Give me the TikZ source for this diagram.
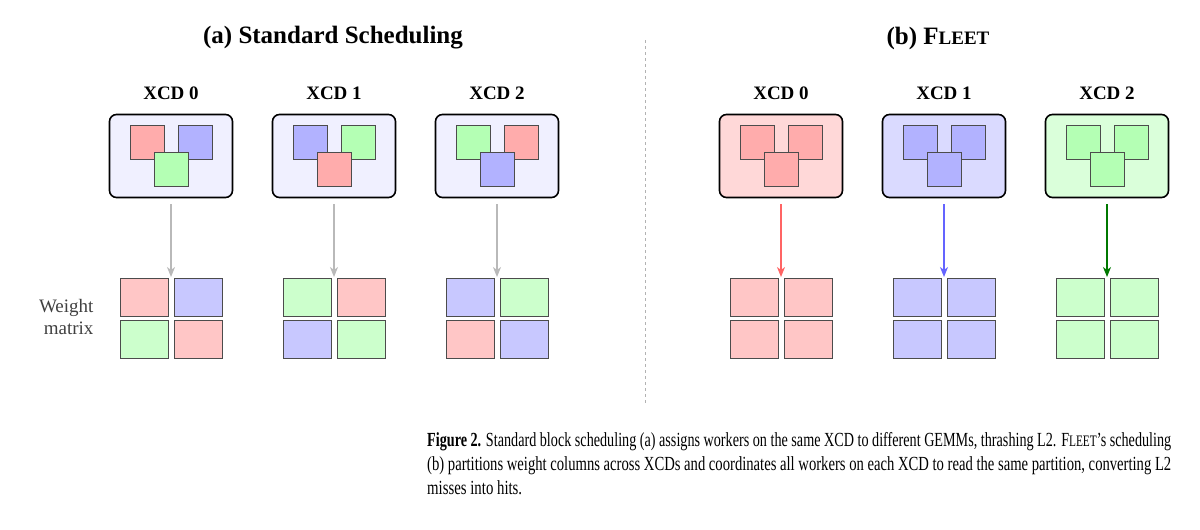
\documentclass[tikz,border=0pt]{standalone}
\usepackage{fontspec}
\setmainfont{Liberation Serif}
\usetikzlibrary{arrows.meta}
\definecolor{rI}{RGB}{255,172,172}\definecolor{bI}{RGB}{178,178,255}\definecolor{gI}{RGB}{180,255,180}
\definecolor{rC}{RGB}{255,198,198}\definecolor{bC}{RGB}{200,200,255}\definecolor{gC}{RGB}{204,255,204}
\definecolor{rB}{RGB}{255,216,216}\definecolor{bB}{RGB}{218,218,255}\definecolor{gB}{RGB}{218,255,218}
\definecolor{nB}{RGB}{240,240,255}
\definecolor{aG}{RGB}{185,185,185}\definecolor{aR}{RGB}{255,100,100}\definecolor{aB}{RGB}{100,100,255}\definecolor{aD}{RGB}{0,120,0}
\tikzset{
 xcdbox/.style={draw=black,line width=1.6pt,rounded corners=7pt,minimum width=123pt,minimum height=83pt,inner sep=0pt},
 sq/.style={draw=black!70,line width=0.9pt,minimum size=34pt,inner sep=0pt},
 cell/.style={draw=black!70,line width=0.9pt,minimum width=48pt,minimum height=38pt,inner sep=0pt},
 lab/.style={font=\fontsize{19}{20}\selectfont\bfseries},
 ttl/.style={font=\fontsize{25}{26}\selectfont\bfseries},
 arr/.style={line width=1.3pt,-{Stealth[length=10pt,width=8pt,inset=3pt]}},
 capl/.style={anchor=base west,inner sep=0pt,font=\fontsize{20}{24}\selectfont},
}
\newcommand{\xcd}[9]{%
 \node[lab] (l#1) at (#2,93) {#9};
 \node[xcdbox,fill=#3] (b#1) at (#2,156) {};
 \node[sq,fill=#4] at (#2-24,142) {};
 \node[sq,fill=#5] at (#2+24,142) {};
 \node[sq,fill=#6] at (#2,169) {};
 \coordinate (m#1) at (#2,277);
 \draw[arr,#7] ([yshift=-6pt]b#1.south) -- (m#1);
 \foreach \c [count=\i from 0] in {#8}{
   \pgfmathsetmacro\dx{mod(\i,2)==0?-27:27}
   \pgfmathsetmacro\dy{\i<2?297.5:339}
   \node[cell,fill=\c] at (#2+\dx,\dy) {};
 }
}
\begin{document}
\begin{tikzpicture}[x=1pt,y=-1pt]
\useasboundingbox (0,0) rectangle (1200,530);
\node[ttl] (ta) at (333,38) {(a) Standard Scheduling};
\node[ttl] (tb) at (938,38) {(b) F{\fontsize{19}{20}\selectfont LEET}};
\coordinate (d1) at (645,40); \coordinate (d2) at (645,405);
\draw[black!30,dashed,line width=0.8pt] (d1) -- (d2);
\xcd{0}{171}{nB}{rI}{bI}{gI}{aG}{rC,bC,gC,rC}{XCD 0}
\xcd{1}{334}{nB}{bI}{gI}{rI}{aG}{gC,rC,bC,gC}{XCD 1}
\xcd{2}{497}{nB}{gI}{rI}{bI}{aG}{bC,gC,rC,bC}{XCD 2}
\xcd{3}{781}{rB}{rI}{rI}{rI}{aR}{rC,rC,rC,rC}{XCD 0}
\xcd{4}{944}{bB}{bI}{bI}{bI}{aB}{bC,bC,bC,bC}{XCD 1}
\xcd{5}{1107}{gB}{gI}{gI}{gI}{aD}{gC,gC,gC,gC}{XCD 2}
\node[align=right,anchor=east,font=\fontsize{19}{22}\selectfont,text=black!75] (wm) at (97,317) {Weight\\matrix};
\node[capl] (c1) at (427,446) {\resizebox{744pt}{\height}{\textbf{Figure 2.} Standard block scheduling (a) assigns workers on the same XCD to different GEMMs, thrashing L2. F{\fontsize{16}{20}\selectfont LEET}’s scheduling}};
\node[capl] (c2) at (427,470) {\resizebox{744pt}{\height}{(b) partitions weight columns across XCDs and coordinates all workers on each XCD to read the same partition, converting L2}};
\node[capl] (c3) at (427,494) {\scalebox{0.74}[1]{misses into hits.}};
\end{tikzpicture}
\end{document}
